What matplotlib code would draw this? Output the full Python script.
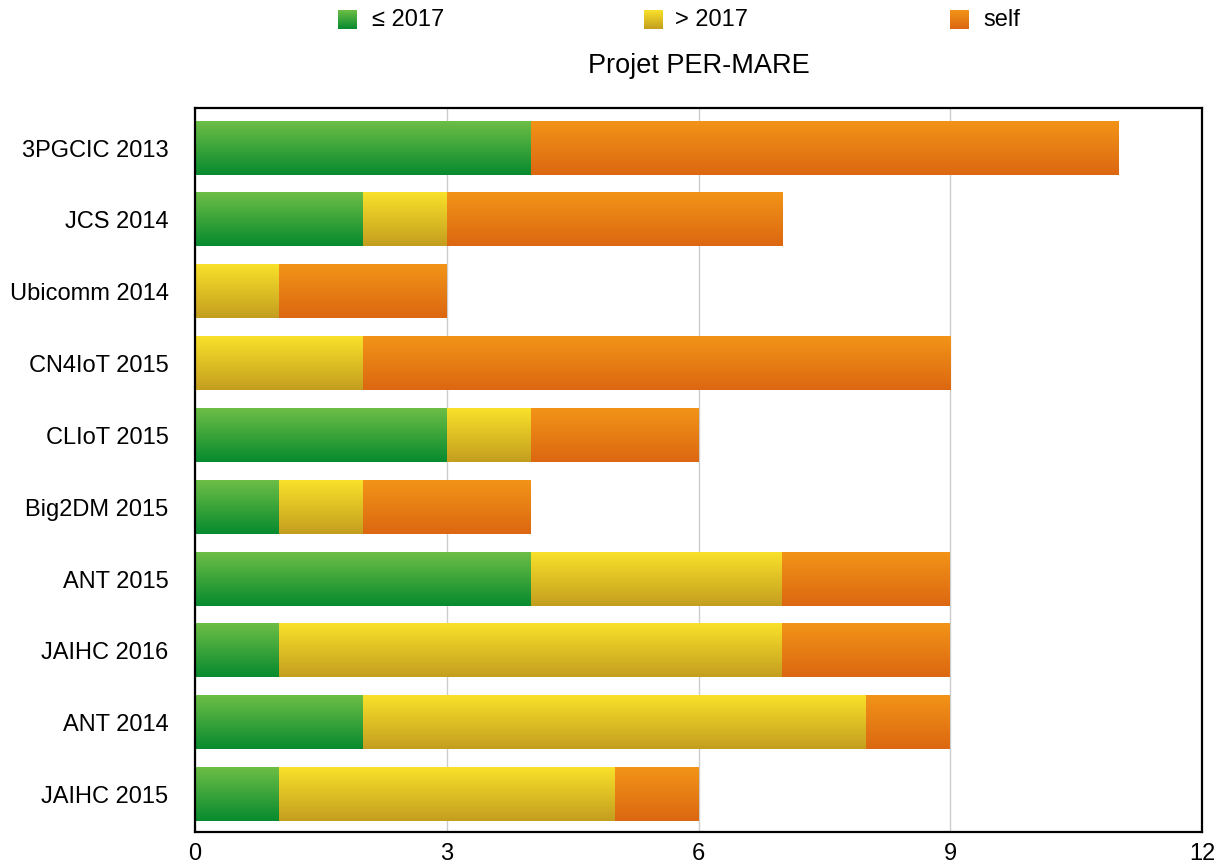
import matplotlib
matplotlib.use("Agg")
import matplotlib.pyplot as plt
import numpy as np
from matplotlib.colors import to_rgb

plt.rcParams['font.family'] = ['Liberation Sans', 'DejaVu Sans']

categories = ["3PGCIC 2013", "JCS 2014", "Ubicomm 2014", "CN4IoT 2015", "CLIoT 2015",
              "Big2DM 2015", "ANT 2015", "JAIHC 2016", "ANT 2014", "JAIHC 2015"]
le_2017 = [4, 2, 0, 0, 3, 1, 4, 1, 2, 1]
gt_2017 = [0, 1, 1, 2, 1, 1, 3, 6, 6, 4]
self_cit = [7, 4, 2, 7, 2, 2, 2, 2, 1, 1]
series_names = ["≤ 2017", "> 2017", "self"]
x_ticks = [0, 3, 6, 9, 12]
title = "Projet PER-MARE"

gradients = [("#6dbe45", "#078a2f"), ("#f9e12a", "#c39e1f"), ("#f29418", "#dc6711")]


def grad_img(top, bottom, n=128):
    t = np.linspace(0, 1, n)[:, None]
    c0 = np.array(to_rgb(top))
    c1 = np.array(to_rgb(bottom))
    return (c0[None, :] * (1 - t) + c1[None, :] * t)[:, None, :]


W, H = 1222, 865
fig = plt.figure(figsize=(W / 100, H / 100), dpi=100)
ax = fig.add_axes([195 / W, 1 - 832 / H, (1202 - 195) / W, (832 - 108) / H])

ypos = np.arange(len(categories))
left = np.zeros(len(categories))
series = [le_2017, gt_2017, self_cit]
for vals, (ctop, cbot) in zip(series, gradients):
    bars = ax.barh(ypos, vals, left=left, height=0.74, color='none', edgecolor='none', zorder=2)
    img = grad_img(ctop, cbot)
    for p in bars.patches:
        if p.get_width() <= 0:
            continue
        x0, y0 = p.get_x(), p.get_y()
        w, h = p.get_width(), p.get_height()
        ax.imshow(img, extent=[x0, x0 + w, y0 + h, y0], origin='upper',
                  aspect='auto', interpolation='bilinear', zorder=2)
    left = left + np.array(vals)

ax.set_xlim(0, 12)
ax.set_ylim(9.522, -0.557)
ax.set_xticks(x_ticks)
ax.set_xticklabels([str(v) for v in x_ticks])
ax.set_yticks(ypos)
ax.set_yticklabels(categories)
ax.tick_params(axis='both', length=0, labelsize=17, colors='black')
ax.tick_params(axis='y', pad=19)
ax.tick_params(axis='x', pad=8)
ax.xaxis.grid(True, color='#cccccc', linewidth=1.0, zorder=0)
ax.set_axisbelow(True)
for s in ax.spines.values():
    s.set_linewidth(1.6)
    s.set_color('black')
    s.set_zorder(5)

# Title
fig.text(698.5 / W, 1 - 66 / H, title, ha='center', va='center', fontsize=19.5)

# Legend
sq_x = [338, 644, 950]
txt_x = [372, 675, 983]
for sx, tx, name, (ctop, cbot) in zip(sq_x, txt_x, series_names, gradients):
    lax = fig.add_axes([sx / W, 1 - 29 / H, 19 / W, 19 / H])
    lax.imshow(grad_img(ctop, cbot), aspect='auto', interpolation='bilinear')
    lax.axis('off')
    fig.text(tx / W, 1 - 20 / H, name, ha='left', va='center', fontsize=17)

fig.savefig("out.png", dpi=100)
